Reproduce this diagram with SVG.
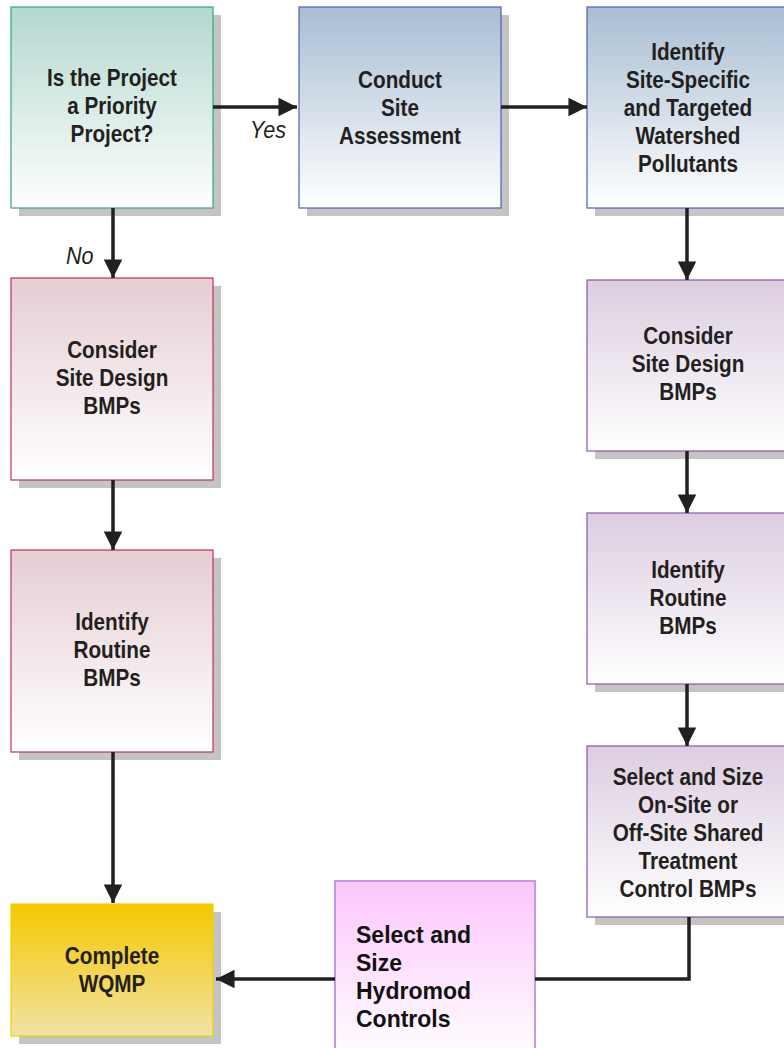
<svg xmlns="http://www.w3.org/2000/svg" width="784" height="1048" viewBox="0 0 784 1048">
<style>
.sh{fill:#c4c4c4}
.t{font-family:"Liberation Sans",Arial,sans-serif;font-weight:bold;font-size:23px;fill:#231f20;text-anchor:middle}
.tl{font-family:"Liberation Sans",Arial,sans-serif;font-weight:bold;font-size:23px;fill:#111}
.lbl{font-family:"Liberation Sans",Arial,sans-serif;font-style:italic;font-size:24px;fill:#231f20}
.c{fill:none;stroke:#231f20;stroke-width:3.5}
</style>
<defs>
<linearGradient id="gTeal" x1="0" y1="0" x2="0" y2="1"><stop offset="0" stop-color="#b3d7cf"/><stop offset="1" stop-color="#ffffff"/></linearGradient>
<linearGradient id="gBlue" x1="0" y1="0" x2="0" y2="1"><stop offset="0" stop-color="#a8bdd3"/><stop offset="1" stop-color="#ffffff"/></linearGradient>
<linearGradient id="gRed" x1="0" y1="0" x2="0" y2="1"><stop offset="0" stop-color="#e5cdd3"/><stop offset="1" stop-color="#ffffff"/></linearGradient>
<linearGradient id="gPur" x1="0" y1="0" x2="0" y2="1"><stop offset="0" stop-color="#dccde0"/><stop offset="1" stop-color="#ffffff"/></linearGradient>
<linearGradient id="gYel" x1="0" y1="0" x2="0" y2="1"><stop offset="0" stop-color="#f5c800"/><stop offset="1" stop-color="#f1e2a6"/></linearGradient>
<linearGradient id="gPink" x1="0" y1="0" x2="0" y2="1"><stop offset="0" stop-color="#fcc6fc"/><stop offset="1" stop-color="#ffffff"/></linearGradient>
<marker id="ah" viewBox="0 0 10 10" refX="10" refY="5" markerWidth="5.3" markerHeight="5.3" markerUnits="strokeWidth" orient="auto"><path d="M0,0 L10,5 L0,10 z" fill="#231f20"/></marker>
</defs>

<g id="n-priority">
<rect class="sh" x="19" y="15" width="202" height="201"/>
<rect x="11" y="7" width="202" height="201" fill="url(#gTeal)" stroke="#2fa58a" stroke-width="1.2"/>
<g transform="matrix(0.9,0,0,1,112,0)">
<text class="t" x="0" y="86">Is the Project</text>
<text class="t" x="0" y="114">a Priority</text>
<text class="t" x="0" y="142">Project?</text>
</g>
</g>

<g id="n-assess">
<rect class="sh" x="307" y="15" width="202" height="201"/>
<rect x="299" y="7" width="202" height="201" fill="url(#gBlue)" stroke="#4a62ad" stroke-width="1.2"/>
<g transform="matrix(0.9,0,0,1,400,0)">
<text class="t" x="0" y="88">Conduct</text>
<text class="t" x="0" y="116">Site</text>
<text class="t" x="0" y="144">Assessment</text>
</g>
</g>

<g id="n-pollutants">
<rect class="sh" x="595" y="15" width="202" height="201"/>
<rect x="587" y="7" width="202" height="201" fill="url(#gBlue)" stroke="#4a62ad" stroke-width="1.2"/>
<g transform="matrix(0.9,0,0,1,688,0)">
<text class="t" x="0" y="60">Identify</text>
<text class="t" x="0" y="88">Site-Specific</text>
<text class="t" x="0" y="116">and Targeted</text>
<text class="t" x="0" y="144">Watershed</text>
<text class="t" x="0" y="172">Pollutants</text>
</g>
</g>

<g id="n-sitedesign-l">
<rect class="sh" x="19" y="286" width="202" height="202"/>
<rect x="11" y="278" width="202" height="202" fill="url(#gRed)" stroke="#c0344f" stroke-width="1.2"/>
<g transform="matrix(0.9,0,0,1,112,0)">
<text class="t" x="0" y="358">Consider</text>
<text class="t" x="0" y="386">Site Design</text>
<text class="t" x="0" y="414">BMPs</text>
</g>
</g>

<g id="n-routine-l">
<rect class="sh" x="19" y="558" width="202" height="202"/>
<rect x="11" y="550" width="202" height="202" fill="url(#gRed)" stroke="#c0344f" stroke-width="1.2"/>
<g transform="matrix(0.9,0,0,1,112,0)">
<text class="t" x="0" y="630">Identify</text>
<text class="t" x="0" y="658">Routine</text>
<text class="t" x="0" y="686">BMPs</text>
</g>
</g>

<g id="n-complete">
<rect class="sh" x="19" y="912" width="202" height="132"/>
<rect x="11" y="904" width="202" height="132" fill="url(#gYel)" stroke="#f2d000" stroke-width="1.2"/>
<g transform="matrix(0.9,0,0,1,112,0)">
<text class="t" x="0" y="964">Complete</text>
<text class="t" x="0" y="992">WQMP</text>
</g>
</g>

<g id="n-sitedesign-r">
<rect class="sh" x="595" y="288" width="202" height="171"/>
<rect x="587" y="280" width="202" height="171" fill="url(#gPur)" stroke="#8a55a5" stroke-width="1.2"/>
<g transform="matrix(0.9,0,0,1,688,0)">
<text class="t" x="0" y="344">Consider</text>
<text class="t" x="0" y="372">Site Design</text>
<text class="t" x="0" y="400">BMPs</text>
</g>
</g>

<g id="n-routine-r">
<rect class="sh" x="595" y="521" width="202" height="171"/>
<rect x="587" y="513" width="202" height="171" fill="url(#gPur)" stroke="#8a55a5" stroke-width="1.2"/>
<g transform="matrix(0.9,0,0,1,688,0)">
<text class="t" x="0" y="578">Identify</text>
<text class="t" x="0" y="606">Routine</text>
<text class="t" x="0" y="634">BMPs</text>
</g>
</g>

<g id="n-treatment">
<rect class="sh" x="595" y="754" width="202" height="171"/>
<rect x="587" y="746" width="202" height="171" fill="url(#gPur)" stroke="#8a55a5" stroke-width="1.2"/>
<g transform="matrix(0.9,0,0,1,688,0)">
<text class="t" x="0" y="785">Select and Size</text>
<text class="t" x="0" y="813">On-Site or</text>
<text class="t" x="0" y="841">Off-Site Shared</text>
<text class="t" x="0" y="869">Treatment</text>
<text class="t" x="0" y="897">Control BMPs</text>
</g>
</g>

<g id="n-hydromod">
<rect x="335" y="881" width="200" height="180" fill="url(#gPink)" stroke="#c49ae6" stroke-width="2"/>
<text class="tl" x="356" y="943">Select and</text>
<text class="tl" x="356" y="971">Size</text>
<text class="tl" x="356" y="999">Hydromod</text>
<text class="tl" x="356" y="1027">Controls</text>
</g>

<g id="connectors">
<path class="c" d="M213,107 H297" marker-end="url(#ah)"/>
<path class="c" d="M501,107 H587" marker-end="url(#ah)"/>
<path class="c" d="M113,208 V278" marker-end="url(#ah)"/>
<path class="c" d="M113,480 V550" marker-end="url(#ah)"/>
<path class="c" d="M113,752 V903" marker-end="url(#ah)"/>
<path class="c" d="M687,208 V280" marker-end="url(#ah)"/>
<path class="c" d="M687,451 V513" marker-end="url(#ah)"/>
<path class="c" d="M687,684 V746" marker-end="url(#ah)"/>
<path class="c" d="M689,917 V979 H535"/>
<path class="c" d="M335,979 H216" marker-end="url(#ah)"/>
<text class="lbl" transform="matrix(0.9,0,0,1,250,138)" x="0" y="0">Yes</text>
<text class="lbl" transform="matrix(0.9,0,0,1,66,264)" x="0" y="0">No</text>
</g>
</svg>
